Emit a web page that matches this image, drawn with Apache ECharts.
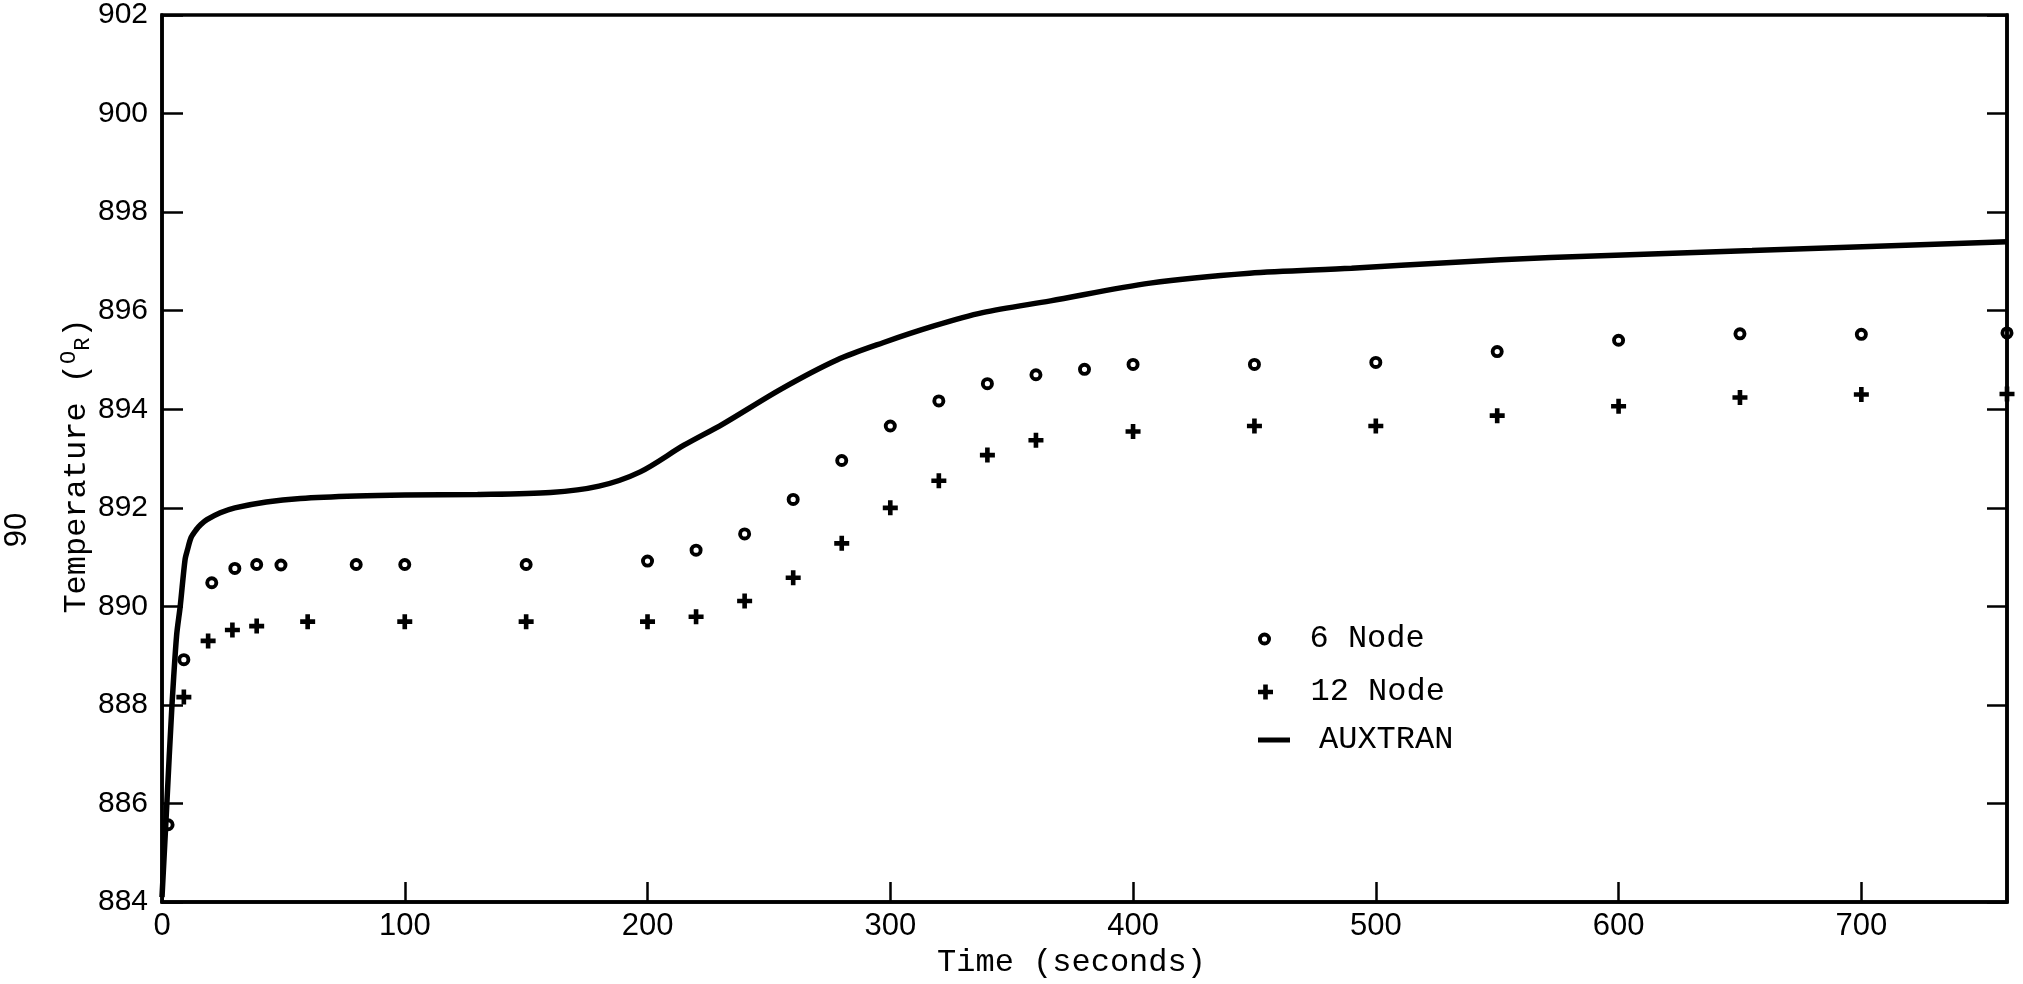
<!DOCTYPE html>
<html>
<head>
<meta charset="utf-8">
<script src="https://cdn.jsdelivr.net/npm/echarts@6/dist/echarts.min.js"></script>
<style>html,body{margin:0;padding:0;background:#fff}#c{width:2023px;height:984px}</style>
</head>
<body>
<div id="c"></div>
<script>
// ---- data ----
const xTicks = [0, 100, 200, 300, 400, 500, 600, 700];
const yTicks = [884, 886, 888, 890, 892, 894, 896, 898, 900, 902];

const node6Time = [2.5, 9, 20.5, 30, 39, 49, 80, 100, 150, 200, 220, 240, 260, 280, 300, 320, 340, 360, 380, 400, 450, 500, 550, 600, 650, 700, 760];
const node6Temp = [885.57, 888.92, 890.48, 890.77, 890.85, 890.84, 890.85, 890.85, 890.85, 890.92, 891.14, 891.47, 892.17, 892.96, 893.66, 894.17, 894.52, 894.70, 894.81, 894.91, 894.91, 894.95, 895.17, 895.40, 895.53, 895.52, 895.55];

const node12Time = [9, 19, 29, 39, 60, 100, 150, 200, 220, 240, 260, 280, 300, 320, 340, 360, 400, 450, 500, 550, 600, 650, 700, 760];
const node12Temp = [888.16, 889.30, 889.52, 889.60, 889.69, 889.69, 889.69, 889.69, 889.79, 890.11, 890.58, 891.28, 892.00, 892.55, 893.07, 893.37, 893.55, 893.66, 893.66, 893.87, 894.06, 894.24, 894.30, 894.31];

const auxTime = [0, 2, 4, 6, 7.5, 9.5, 10.5, 12, 14, 16, 18.5, 24, 30, 43, 57, 80, 100, 130, 160, 180, 197, 215, 231, 255, 278, 297, 318, 338, 366, 407, 448, 490, 531, 572, 655, 760];
const auxTemp = [884.1, 886.0, 887.9, 889.4, 890.0, 890.95, 891.15, 891.4, 891.55, 891.66, 891.76, 891.9, 892.0, 892.12, 892.19, 892.24, 892.26, 892.27, 892.31, 892.44, 892.73, 893.27, 893.7, 894.41, 895.0, 895.35, 895.69, 895.96, 896.2, 896.56, 896.76, 896.86, 896.98, 897.08, 897.22, 897.4];

const pairs = (a, b) => a.map((t, i) => [t, b[i]]);

const ringPath = 'path://M6,0A6,6,0,1,1,6,12A6,6,0,1,1,6,0ZM6,3.6A2.4,2.4,0,1,0,6,8.4A2.4,2.4,0,1,0,6,3.6Z';
const plusPath = 'path://M4.5,0h4v4.5h4.5v4h-4.5v4.5h-4v-4.5h-4.5v-4h4.5z';
const barPath = 'path://M0,0h32v5h-32z';

const mono = "'Liberation Mono', 'DejaVu Sans Mono', monospace";
const sans = "'Liberation Sans', Arial, sans-serif";

const chart = echarts.init(document.getElementById('c'), null, {renderer: 'canvas'});

function legendFor(name, icon, h, top) {
  return {
    data: [{name: name, icon: icon}],
    left: 1258, top: top, padding: 0,
    itemWidth: 40, itemHeight: h,
    symbolKeepAspect: true,
    itemStyle: {color: '#000', borderWidth: 0, opacity: 1},
    lineStyle: {width: 0},
    textStyle: {fontFamily: mono, fontSize: 32, color: '#000', padding: [0, 0, 0, 20]},
    selectedMode: false
  };
}

chart.setOption({
  animation: false,
  backgroundColor: '#fff',
  grid: {left: 162, right: 16, top: 15, bottom: 76, show: true, borderColor: '#000', borderWidth: 3.5, backgroundColor: 'transparent'},
  xAxis: {
    type: 'value', min: 0, max: 760, interval: 100,
    name: 'Time (seconds)', nameLocation: 'middle', nameGap: 36,
    nameTextStyle: {fontFamily: mono, fontSize: 32, color: '#000', padding: [0, 26, 0, 0]},
    axisLine: {show: true, lineStyle: {color: '#000', width: 3.5}},
    axisTick: {show: true, inside: true, length: 20, lineStyle: {color: '#000', width: 2.5}},
    axisLabel: {color: '#000', fontFamily: sans, fontSize: 31, margin: 9, showMaxLabel: false,
      formatter: v => xTicks.includes(v) ? String(v) : ''},
    splitLine: {show: false}
  },
  yAxis: [{
    type: 'value', min: 884, max: 902, interval: 2,
    axisLine: {show: true, lineStyle: {color: '#000', width: 3.5}},
    axisTick: {show: true, inside: true, length: 21, lineStyle: {color: '#000', width: 2.5}},
    axisLabel: {color: '#000', fontFamily: sans, fontSize: 30, margin: 14,
      formatter: v => yTicks.includes(v) ? String(v) : ''},
    splitLine: {show: false}
  }, {
    type: 'value', min: 884, max: 902, interval: 2, position: 'right',
    axisLine: {show: true, lineStyle: {color: '#000', width: 3.5}},
    axisTick: {show: true, inside: true, length: 20, lineStyle: {color: '#000', width: 2.5}},
    axisLabel: {show: false},
    splitLine: {show: false}
  }],
  legend: [
    legendFor('6 Node', ringPath, 13, 623),
    legendFor('12 Node', plusPath, 15, 676),
    legendFor('AUXTRAN', barPath, 5, 724)
  ],
  graphic: [
    {type: 'text', x: 77, y: 466, rotation: Math.PI / 2,
      style: {
        text: 'Temperature ({sup|O}{sub|R})',
        font: "32px " + mono, fill: '#000', align: 'center', verticalAlign: 'middle',
        rich: {
          sup: {fontFamily: mono, fontSize: 22, fill: '#000', padding: [0, 0, 15, 0]},
          sub: {fontFamily: mono, fontSize: 22, fill: '#000', padding: [13, 0, 0, 0]}
        }
      }},
    {type: 'text', x: 17, y: 530, rotation: Math.PI / 2,
      style: {text: '90', font: "31px " + sans, fill: '#000', align: 'center', verticalAlign: 'middle'}}
  ],
  series: [
    {name: 'AUXTRAN', type: 'line', data: pairs(auxTime, auxTemp), showSymbol: false, symbol: 'none',
      smooth: 0.3,
      lineStyle: {color: '#000', width: 5.5}, itemStyle: {color: '#000'}, z: 2, clip: false},
    {name: '6 Node', type: 'scatter', data: pairs(node6Time, node6Temp), symbol: ringPath, symbolSize: 13,
      itemStyle: {color: '#000', opacity: 1}, z: 3, clip: false},
    {name: '12 Node', type: 'scatter', data: pairs(node12Time, node12Temp), symbol: plusPath, symbolSize: 15,
      itemStyle: {color: '#000', opacity: 1}, z: 3, clip: false}
  ]
});
</script>
</body>
</html>
